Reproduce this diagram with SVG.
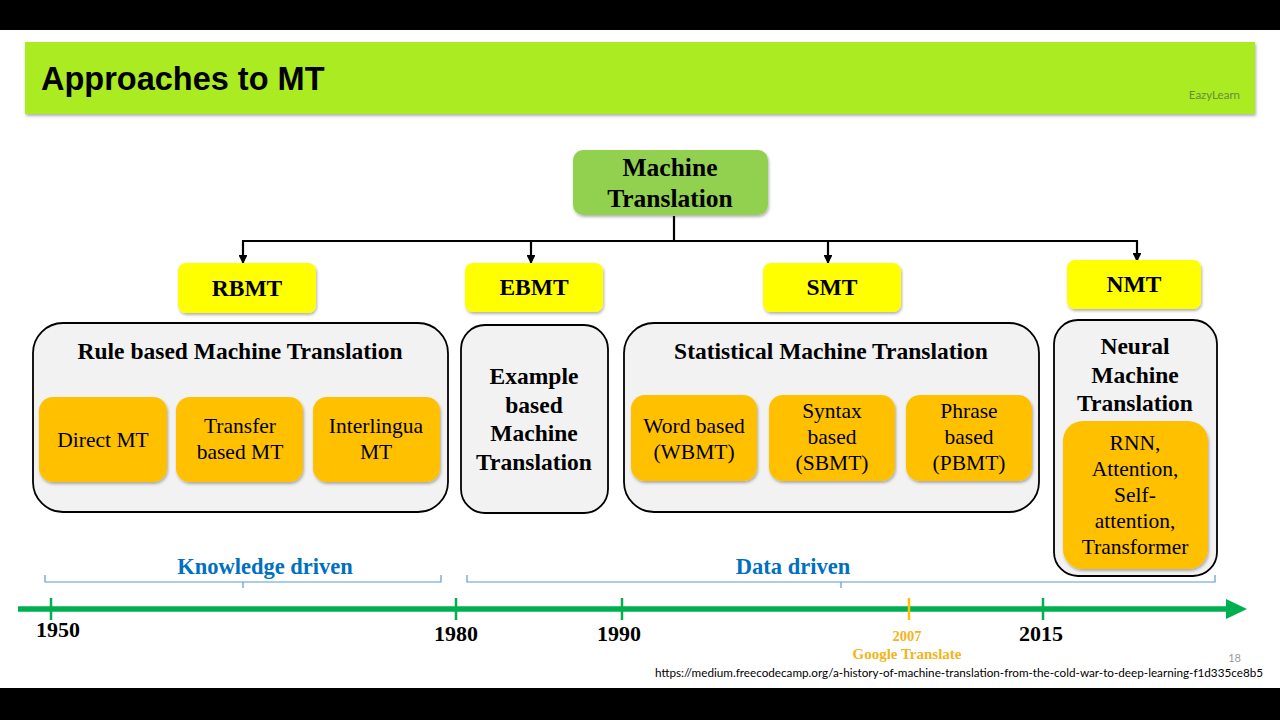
<svg xmlns="http://www.w3.org/2000/svg" width="1280" height="720" viewBox="0 0 1280 720">
<defs>
<filter id="sh" x="-10%" y="-10%" width="120%" height="130%"><feDropShadow dx="1" dy="2" stdDeviation="1.5" flood-color="#000" flood-opacity="0.3"/></filter>
<marker id="ah" viewBox="0 0 10 10" refX="9" refY="5" markerWidth="4" markerHeight="4" orient="auto"><path d="M0,0 L10,5 L0,10 z" fill="#000"/></marker>
<style>
text{font-family:'Liberation Serif','Times New Roman',serif}
.b{font-weight:bold}
.yl{fill:#FFFF00;filter:url(#sh)}
.gr{fill:#F2F2F2;stroke:#000;stroke-width:1.8}
.or{fill:#FFC000;filter:url(#sh)}
.t20{font-size:23.5px;fill:#000;text-anchor:middle}
.t19{font-size:21.5px;fill:#000;text-anchor:middle}
.blue{fill:#0070C0;font-size:22.5px;font-weight:bold;text-anchor:middle}
.yr{fill:#000;font-size:22px;font-weight:bold;text-anchor:middle}
.conn{stroke:#000;stroke-width:2.2;fill:none}
.brace{stroke:#5B9BD5;stroke-width:1.2;fill:none}
.tick{stroke:#00B050;stroke-width:2.5}
.sans{font-family:'Liberation Sans',Arial,sans-serif}
.lato{font-family:Lato,sans-serif}
</style>
</defs>
<rect width="1280" height="720" fill="#fff"/>
<rect x="0" y="0" width="1280" height="30" fill="#000"/>
<rect x="0" y="688" width="1280" height="32" fill="#000"/>

<g id="header">
<rect x="25" y="42" width="1230" height="72" fill="#AAEB23" filter="url(#sh)"/>
<text class="sans" x="41" y="90" font-size="32.5" font-weight="bold" fill="#000">Approaches to MT</text>
<text class="lato" x="1240" y="99" font-size="11.5" fill="#6a8a40" text-anchor="end">EazyLearn</text>
</g>

<g id="connectors">
<line class="conn" x1="674" y1="216" x2="674" y2="241"/>
<line class="conn" x1="242" y1="241" x2="1138" y2="241"/>
<line class="conn" x1="243" y1="241" x2="243" y2="263" marker-end="url(#ah)"/>
<line class="conn" x1="531" y1="241" x2="531" y2="263" marker-end="url(#ah)"/>
<line class="conn" x1="828" y1="241" x2="828" y2="263" marker-end="url(#ah)"/>
<line class="conn" x1="1137" y1="241" x2="1137" y2="261" marker-end="url(#ah)"/>
</g>

<g id="mt">
<rect x="573" y="150" width="195" height="65" rx="10" fill="#92D050" filter="url(#sh)"/>
<text class="t20 b" x="670" y="176" style="font-size:25.5px">Machine</text>
<text class="t20 b" x="670" y="207" style="font-size:25.5px">Translation</text>
</g>

<g id="rbmt"><rect class="yl" x="178" y="263" width="138" height="50" rx="8"/><text class="t20 b" x="247" y="296">RBMT</text></g>
<g id="ebmt"><rect class="yl" x="465" y="263" width="138" height="49" rx="8"/><text class="t20 b" x="534" y="295">EBMT</text></g>
<g id="smt"><rect class="yl" x="763" y="263" width="138" height="49" rx="8"/><text class="t20 b" x="832" y="295">SMT</text></g>
<g id="nmt"><rect class="yl" x="1067" y="260" width="134" height="49" rx="8"/><text class="t20 b" x="1134" y="292">NMT</text></g>

<g id="rule">
<rect class="gr" x="33" y="323" width="415" height="189" rx="30"/>
<text class="t20 b" x="240" y="359">Rule based Machine Translation</text>
<rect class="or" x="39" y="397" width="128" height="85" rx="14"/>
<text class="t19" x="103" y="447">Direct MT</text>
<rect class="or" x="176" y="397" width="127" height="85" rx="14"/>
<text class="t19" x="240" y="433">Transfer</text><text class="t19" x="240" y="459">based MT</text>
<rect class="or" x="313" y="397" width="127" height="85" rx="14"/>
<text class="t19" x="376" y="433">Interlingua</text><text class="t19" x="376" y="459">MT</text>
</g>

<g id="example">
<rect class="gr" x="461" y="325" width="147" height="188" rx="24"/>
<text class="t20 b" x="534" y="384">Example</text>
<text class="t20 b" x="534" y="413">based</text>
<text class="t20 b" x="534" y="441">Machine</text>
<text class="t20 b" x="534" y="470">Translation</text>
</g>

<g id="statistical">
<rect class="gr" x="624" y="323" width="415" height="189" rx="30"/>
<text class="t20 b" x="831" y="359">Statistical Machine Translation</text>
<rect class="or" x="631" y="395" width="126" height="86" rx="14"/>
<text class="t19" x="694" y="433">Word based</text><text class="t19" x="694" y="459">(WBMT)</text>
<rect class="or" x="769" y="395" width="126" height="86" rx="14"/>
<text class="t19" x="832" y="418">Syntax</text><text class="t19" x="832" y="444">based</text><text class="t19" x="832" y="470">(SBMT)</text>
<rect class="or" x="906" y="395" width="126" height="86" rx="14"/>
<text class="t19" x="969" y="418">Phrase</text><text class="t19" x="969" y="444">based</text><text class="t19" x="969" y="470">(PBMT)</text>
</g>

<g id="neural">
<rect class="gr" x="1054" y="320" width="163" height="256" rx="24"/>
<text class="t20 b" x="1135" y="354">Neural</text>
<text class="t20 b" x="1135" y="383">Machine</text>
<text class="t20 b" x="1135" y="411">Translation</text>
<rect class="or" x="1063" y="421" width="145" height="148" rx="20"/>
<text class="t19" x="1135" y="450">RNN,</text>
<text class="t19" x="1135" y="476">Attention,</text>
<text class="t19" x="1135" y="502">Self-</text>
<text class="t19" x="1135" y="528">attention,</text>
<text class="t19" x="1135" y="554">Transformer</text>
</g>

<g id="braces">
<path class="brace" d="M45,575 v7 h198 v6 M243,582 h198 v-7"/>
<text class="blue" x="265" y="574">Knowledge driven</text>
<path class="brace" d="M467,575 v7 h374 v6 M841,582 h374 v-7"/>
<text class="blue" x="793" y="574">Data driven</text>
</g>

<g id="timeline">
<line x1="18" y1="609" x2="1228" y2="609" stroke="#00B050" stroke-width="5.5"/>
<path d="M1226,599 L1247,609 L1226,619 z" fill="#00B050"/>
<line class="tick" x1="51" y1="598" x2="51" y2="620"/>
<line class="tick" x1="456" y1="598" x2="456" y2="620"/>
<line class="tick" x1="622" y1="598" x2="622" y2="620"/>
<line x1="909" y1="598" x2="909" y2="620" stroke="#FFC000" stroke-width="2.5"/>
<line class="tick" x1="1043" y1="598" x2="1043" y2="620"/>
<text class="yr" x="58" y="637">1950</text>
<text class="yr" x="456" y="641">1980</text>
<text class="yr" x="619" y="641">1990</text>
<text class="yr" x="1041" y="641">2015</text>
<text x="907" y="641" font-size="14.5" font-weight="bold" fill="#F2B51A" text-anchor="middle">2007</text>
<text x="907" y="659" font-size="15" font-weight="bold" fill="#F2B51A" text-anchor="middle">Google Translate</text>
</g>

<g id="footer">
<text class="lato" x="1241" y="662" font-size="11" fill="#999" text-anchor="end">18</text>
<text class="lato" x="1263" y="677" font-size="11" fill="#000" text-anchor="end" textLength="608" lengthAdjust="spacingAndGlyphs">https://medium.freecodecamp.org/a-history-of-machine-translation-from-the-cold-war-to-deep-learning-f1d335ce8b5</text>
</g>
</svg>
